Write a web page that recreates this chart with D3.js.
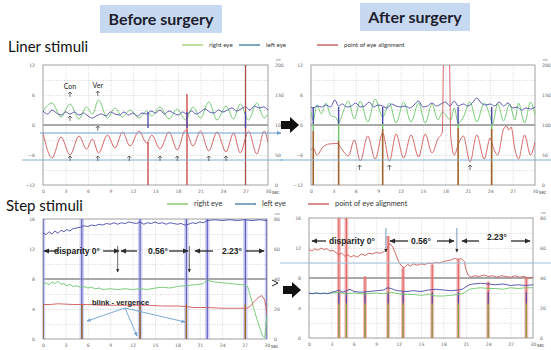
<!DOCTYPE html>
<meta charset="utf-8">
<style>
  body { margin: 0; background: #fff; }
  svg { display: block; font-family: Lato, "Open Sans", Arial, sans-serif; }
  .grid line { stroke: #c4c4c4; stroke-width: 0.6; stroke-dasharray: 1.2, 1.4; }
  .grid path { display: none; }
  .lbl text { fill: #6a6a6a; font-size: 4.6px; font-family: "DejaVu Sans", sans-serif; }
  .lbl path { display: none; }
  .trace { fill: none; stroke-width: 0.9; stroke-linejoin: round; }
  .ann { font-family: "Liberation Sans", Arial, sans-serif; font-weight: bold; fill: #222; }
</style>
<body>
<script src="https://cdn.jsdelivr.net/npm/d3@7/dist/d3.min.js"></script>
<script>
// ---- axis / tick data ----
const xTicks = [0, 3, 6, 9, 12, 15, 18, 21, 24, 27, 30];
const linLeftTicks = [-12, -6, 0, 6, 12];
const linRightTicks = [0, 50, 100, 150, 200];
const linGrid = [-9, -6, -3, 3, 6, 9];
const stepLeftTicks = [0, 4, 8, 12, 16];
const stepRightTicks = [0, 20, 40, 60, 80];
const stepGrid = [2, 4, 6, 10, 12, 14];

// ---- before surgery, liner stimuli (deg, [sec, value]) ----
const beforeLinRed = [[0,-1.6],[1.2,-6.6],[2.4,-2.4],[3.6,-6.0],[4.8,-2.2],[5.8,-4.8],[6.6,-2.8],[7.4,-5.6],[8.6,-2.0],[9.6,-4.6],[10.6,-1.4],[11.6,-4.2],[12.8,-1.2],[13.8,-3.6],[14.5,-2.0],[15.6,-4.8],[16.8,-1.4],[17.9,-5.0],[19.0,-1.0],[20.0,-4.2],[21.0,-1.2],[22.1,-5.2],[23.2,-1.4],[24.4,-5.4],[25.4,-1.6],[26.3,-5.6],[27.4,-1.2],[28.5,-5.8],[29.5,-1.2],[30,-3.5]];
const beforeLinGreen = [[0,2.8],[1.2,4.4],[2.4,1.6],[3.6,4.2],[4.8,1.2],[5.8,3.6],[6.6,2.2],[7.4,5.0],[8.6,1.4],[9.6,3.4],[10.6,1.6],[11.6,3.0],[12.8,1.4],[13.8,2.8],[14.5,1.8],[15.6,3.6],[16.8,1.2],[17.9,3.2],[19.0,1.0],[20.0,3.6],[21.0,1.4],[22.1,4.6],[23.2,1.0],[24.4,3.8],[25.4,1.2],[26.3,4.2],[27.4,1.0],[28.5,4.4],[29.5,1.4],[30,2.2]];
const beforeLinBlue = [[0,2.8],[0.6,2.2],[1.2,3.0],[1.8,2.4],[2.4,2.0],[3.0,2.6],[3.6,2.2],[4.2,2.6],[4.8,2.0],[5.4,2.4],[6.0,1.8],[6.6,1.4],[7.2,1.9],[7.8,2.2],[8.4,1.8],[9.0,2.6],[9.6,2.2],[10.2,2.0],[10.8,2.6],[11.4,2.0],[12.0,2.4],[12.6,1.8],[13.2,2.4],[13.8,2.2],[14.4,2.8],[15.0,2.4],[15.6,3.0],[16.2,2.2],[16.8,2.8],[17.4,2.4],[18.0,2.0],[18.6,2.6],[19.2,2.2],[19.8,2.8],[20.4,2.2],[21.0,2.6],[21.6,3.2],[22.2,2.6],[22.8,2.4],[23.4,3.0],[24.0,2.6],[24.6,3.0],[25.2,3.4],[25.8,2.8],[26.4,3.2],[27.0,3.6],[27.6,3.0],[28.2,3.8],[28.8,3.4],[29.4,3.6],[30,3.0]];
const beforeLinBlinks = [14.0, 19.2, 27.0];
const beforeLinBlinkReach = [-3.4, 6.2, 12];
const beforeLinMarks = [3.6, 7.3, 11.5, 15.6, 17.9, 22.1, 24.4];

// ---- after surgery, liner stimuli ----
const afterLinRed = [[0,-5.0],[0.3,-4.6],[0.8,-6.0],[1.6,-4.4],[2.4,-3.8],[3.5,-3.7],[4.4,-5.4],[5.0,-6.2],[5.8,-3.0],[6.6,-7.2],[7.6,-2.2],[8.6,-6.8],[9.6,-1.6],[10.5,-7.2],[11.4,-1.8],[12.4,-6.6],[13.4,-2.0],[14.4,-6.4],[15.3,-1.8],[16.2,-5.6],[17.0,-2.8],[17.6,-1.4],[17.75,12.4],[18.55,12.4],[18.7,-2.0],[19.2,-6.0],[19.7,-4.0],[20.4,-2.2],[21.3,-7.4],[22.2,-2.0],[23.2,-6.8],[24.0,-2.6],[24.3,-4.0],[25.0,-6.0],[25.8,-0.8],[26.2,-0.2],[26.5,-1.0],[26.8,-0.4],[27.3,-4.8],[27.8,-6.8],[28.6,-2.0],[29.4,-6.0],[30,-3.4]];
const afterLinGreen = [[0,2.6],[0.3,1.0],[0.8,4.0],[1.4,2.2],[2.0,4.4],[2.6,2.0],[3.4,1.4],[3.7,0.4],[4.2,2.2],[5.0,4.8],[5.8,1.2],[6.6,4.8],[7.6,0.6],[8.6,5.2],[9.6,1.6],[10.5,4.4],[11.4,0.4],[12.4,4.6],[13.4,0.6],[14.4,4.4],[15.3,0.4],[16.2,4.2],[17.0,1.0],[17.6,2.6],[18.7,1.0],[19.2,3.4],[19.7,0.4],[20.4,1.6],[21.3,4.6],[22.2,0.6],[23.2,4.4],[24.0,1.6],[24.3,0.2],[25.0,4.2],[25.8,0.8],[26.6,4.2],[27.3,1.0],[27.8,4.4],[28.6,0.4],[29.4,4.6],[30,2.0]];
const afterLinBlue = [[0,3.6],[0.3,3.4],[0.8,3.8],[1.4,3.6],[2.0,4.0],[2.6,3.6],[3.2,5.0],[3.7,3.8],[4.2,4.2],[4.8,3.6],[5.4,3.8],[6.0,4.4],[6.6,3.6],[7.2,3.8],[7.8,4.6],[8.4,3.6],[9.0,4.0],[9.6,3.8],[10.2,3.4],[10.8,4.2],[11.4,3.8],[12.0,3.6],[12.6,3.8],[13.2,3.4],[13.8,4.0],[14.4,4.8],[15.0,3.6],[15.6,3.8],[16.2,4.4],[16.8,3.8],[17.4,4.2],[18.0,4.6],[18.6,3.8],[19.2,4.8],[19.7,3.8],[20.4,4.2],[21.0,3.8],[21.6,4.4],[22.2,5.4],[22.8,4.4],[23.4,4.0],[24.0,4.2],[24.6,3.8],[25.2,4.6],[25.8,3.8],[26.4,4.4],[27.0,3.4],[27.6,3.6],[28.2,3.0],[28.8,3.4],[29.4,3.2],[30,3.6]];
const afterLinBlinks = [0.3, 3.7, 9.6, 19.7, 24.2];
const afterLinBlinkReach = [-1.2, -3.2, -0.8, -0.6, -0.8];
const afterLinMarks = [6.5, 10.5, 21.3];

// ---- before surgery, step stimuli ----
const beforeStepBlue = [[0,14.2],[0.4,13.9],[0.8,14.3],[1.2,14.0],[1.6,14.4],[2.0,14.1],[2.4,14.5],[2.8,14.3],[3.2,14.6],[3.6,14.4],[4.0,14.7],[4.5,14.8],[5.0,14.9],[5.5,15.1],[6,15.0],[6.5,15.2],[7,15.1],[7.5,15.3],[8,15.2],[8.5,15.4],[9,15.3],[9.5,15.5],[10,15.3],[10.5,15.5],[11,15.4],[11.5,15.6],[12,15.5],[12.5,15.4],[13,15.6],[13.5,15.3],[14,15.5],[14.5,15.4],[15,15.6],[15.5,15.4],[16,15.5],[16.5,15.3],[17,15.5],[17.5,15.4],[18,15.3],[18.5,15.4],[19,15.2],[19.5,15.3],[20,15.5],[20.5,15.4],[21,15.6],[21.5,15.5],[22,15.8],[23,15.9],[24,15.8],[25,15.9],[26,15.8],[27,15.9],[28,15.8],[29,15.9],[30,15.8]];
const beforeStepGreen = [[0,7.3],[0.4,7.5],[0.8,7.2],[1.2,7.6],[1.6,7.4],[2.0,7.7],[2.4,7.3],[2.8,7.4],[3.2,7.1],[3.6,7.3],[4.0,7.0],[4.5,7.1],[5.0,6.9],[5.5,7.0],[6.0,6.8],[6.5,6.9],[7,6.7],[7.5,6.8],[8,6.6],[9,6.7],[10,6.6],[11,6.7],[12,6.6],[13,6.7],[14,6.6],[15,6.8],[16,6.9],[17,6.8],[18,7.0],[19,7.1],[20,7.2],[21,7.3],[21.5,7.4],[22,7.9],[22.5,7.7],[23,7.6],[24,7.5],[25,7.4],[26,7.3],[27,7.2],[27.4,7.0],[27.8,5.6],[28.2,4.2],[28.6,2.8],[29,1.6],[29.4,0.4],[29.7,0.2],[30,3.2]];
const beforeStepRed = [[0,4.6],[1,4.6],[2,4.7],[4,4.6],[6,4.6],[8,4.5],[10,4.5],[12,4.5],[14,4.5],[16,4.4],[18,4.4],[19.5,4.3],[20,4.2],[22,4.2],[24,4.1],[26,4.1],[27.3,4.1],[27.8,4.4],[28.3,5.0],[28.8,5.5],[29.3,5.8],[29.7,5.2],[30,3.4]];
const beforeStepBlinks = [0, 5.2, 13.0, 19.2, 22.0, 27.1, 30];
const beforeStepDrops = [0, 5.2, 13.0, 19.2, 27.1];

// ---- after surgery, step stimuli ----
const afterStepRed = [[0,11.8],[0.4,11.6],[0.8,11.9],[1.2,11.7],[1.6,12.0],[2.0,11.8],[2.4,11.9],[2.8,11.6],[3.2,11.7],[3.6,11.4],[4.0,11.1],[4.4,11.3],[4.8,10.9],[5.2,11.1],[5.6,10.8],[6.0,11.0],[6.5,10.8],[7.0,11.2],[7.5,11.0],[8.0,11.3],[8.5,11.2],[9.0,11.4],[9.5,11.3],[10.0,11.5],[10.4,11.8],[10.8,12.6],[11.2,12.2],[11.6,11.2],[12.0,10.2],[12.4,9.6],[12.8,9.4],[13.2,9.8],[13.6,9.6],[14.0,9.9],[14.5,9.7],[15.0,9.9],[15.5,9.8],[16.0,10.0],[16.5,9.9],[17.0,10.1],[17.5,10.0],[18.0,10.2],[18.5,10.3],[19.0,10.4],[19.5,10.6],[20.0,10.5],[20.4,10.6],[20.8,10.2],[21.0,9.2],[21.3,8.4],[21.7,8.1],[22.2,8.3],[22.8,8.2],[23.4,8.4],[24.0,8.2],[24.6,8.3],[25.2,8.1],[25.8,8.3],[26.4,8.2],[27.0,8.1],[27.6,8.3],[28.2,8.1],[28.8,8.2],[29.4,8.0],[30,8.1]];
const afterStepBlue = [[0,6.0],[0.5,5.9],[1,6.0],[1.5,5.9],[2,6.0],[2.5,5.9],[3,6.1],[3.5,6.2],[4,6.4],[4.5,6.1],[5,6.3],[5.5,6.5],[6,6.2],[7,6.1],[8,6.2],[9,6.3],[10,6.4],[10.5,6.7],[11,6.6],[11.5,6.4],[12,6.3],[13,6.2],[14,6.3],[15,6.2],[16,6.4],[17,6.5],[18,6.4],[19,6.3],[20,6.4],[20.5,6.5],[21,6.8],[21.5,7.1],[22,7.2],[23,7.3],[24,7.2],[25,7.1],[26,7.2],[27,7.0],[28,7.1],[29,7.0],[30,7.1]];
const afterStepGreen = [[0,5.9],[1,6.0],[2,5.9],[3,6.0],[4,6.1],[5,5.9],[6,6.0],[7,5.9],[8,5.9],[9,6.0],[10,5.9],[11,6.1],[12,5.9],[13,5.8],[14,5.8],[15,5.7],[16,5.8],[17,5.6],[18,5.6],[19,5.7],[20,5.8],[20.5,5.9],[21,6.2],[21.5,6.5],[22,6.6],[23,6.7],[24,6.6],[25,6.6],[26,6.5],[27,6.7],[28,6.6],[29,6.7],[30,6.7]];
const afterStepBlinks = [4.0, 5.0, 7.5, 10.6, 12.6, 16.5, 20.0, 24.0, 29.1];
const afterStepBlinkReach = [16, 16, 8.2, 13.6, 9.4, 9.8, 10.5, 7.5, 8.0];

const legendLabels = ['right eye', 'left eye', 'point of eye alignment'];

const GREEN = '#6cc66c', BLUE = '#4848aa', RED = '#d05858';

const svg = d3.select('body').append('svg').attr('width', 551).attr('height', 350);
const defs = svg.append('defs');
let clipCount = 0;

function marker(id, color) {
  defs.append('marker').attr('id', id).attr('viewBox', '0 0 10 10')
    .attr('refX', 8).attr('refY', 5).attr('markerWidth', 5).attr('markerHeight', 5)
    .attr('orient', 'auto-start-reverse')
    .append('path').attr('d', 'M0,1 L9,5 L0,9 Z').attr('fill', color);
}
marker('ah', '#2a2a2a');
marker('ahBlue', '#6a9fd0');

function makePanel(box, leftTicks, rightTicks, gridVals, refVal) {
  const x = d3.scaleLinear().domain([0, 30]).range([box.x0, box.x1]);
  const y = d3.scaleLinear().domain(d3.extent(leftTicks)).range([box.y1, box.y0]);
  const yR = d3.scaleLinear().domain(d3.extent(rightTicks)).range([box.y1, box.y0]);
  const w = box.x1 - box.x0, h = box.y1 - box.y0;
  const g = svg.append('g');

  g.append('g').attr('class', 'grid').attr('transform', `translate(0,${box.y1})`)
    .call(d3.axisBottom(x).tickValues(xTicks.slice(1, -1)).tickSize(-h).tickFormat(''));
  g.append('g').attr('class', 'grid').attr('transform', `translate(${box.x0},0)`)
    .call(d3.axisLeft(y).tickValues(gridVals).tickSize(-w).tickFormat(''));
  g.append('line')
    .attr('x1', box.x0).attr('x2', box.x1).attr('y1', y(refVal)).attr('y2', y(refVal))
    .attr('stroke', '#8c8c8c').attr('stroke-width', 1.4);
  g.append('rect').attr('x', box.x0).attr('y', box.y0).attr('width', w).attr('height', h)
    .attr('fill', 'none').attr('stroke', '#a0a0a0').attr('stroke-width', 1);

  g.append('g').attr('class', 'lbl').attr('transform', `translate(0,${box.y1})`)
    .call(d3.axisBottom(x).tickValues(xTicks).tickSize(0).tickPadding(5));
  g.append('g').attr('class', 'lbl').attr('transform', `translate(${box.x0},0)`)
    .call(d3.axisLeft(y).tickValues(leftTicks).tickSize(0).tickPadding(8));
  g.append('g').attr('class', 'lbl').attr('transform', `translate(${box.x1},0)`)
    .call(d3.axisRight(yR).tickValues(rightTicks).tickSize(0).tickPadding(7));
  g.append('text').attr('x', box.x1 + 8).attr('y', box.y0 - 4)
    .attr('font-size', 3.6).attr('fill', '#777').text('cm');
  g.append('text').attr('x', box.x1 + 4).attr('y', box.y1 + 8.5)
    .attr('font-size', 5).attr('fill', '#555').text('sec');

  const id = 'clip' + (clipCount++);
  defs.append('clipPath').attr('id', id).append('rect')
    .attr('x', box.x0).attr('y', box.y0).attr('width', w).attr('height', h);
  const plot = g.append('g').attr('clip-path', `url(#${id})`);
  return { x, y, plot, box };
}

function trace(p, data, color, curve) {
  p.plot.append('path').datum(data).attr('class', 'trace').attr('stroke', color)
    .attr('d', d3.line().x(d => p.x(d[0])).y(d => p.y(d[1])).curve(curve));
}

function vseg(p, t, v0, v1, color, width, opacity) {
  p.plot.append('line').attr('x1', p.x(t)).attr('x2', p.x(t))
    .attr('y1', p.y(v0)).attr('y2', p.y(v1))
    .attr('stroke', color).attr('stroke-width', width).attr('stroke-opacity', opacity || 1);
}

function upArrow(px, py) {
  svg.append('path').attr('d', `M${px},${py + 5} L${px},${py} M${px - 2},${py + 2} L${px},${py} L${px + 2},${py + 2}`)
    .attr('fill', 'none').attr('stroke', '#333').attr('stroke-width', 0.7);
}

function arrow(x1, y1, x2, y2, m, color, width) {
  svg.append('line').attr('x1', x1).attr('y1', y1).attr('x2', x2).attr('y2', y2)
    .attr('stroke', color).attr('stroke-width', width).attr('marker-end', `url(#${m})`);
}

function bigArrow(x0, cy) {
  svg.append('path')
    .attr('d', `M${x0},${cy - 4} L${x0 + 9},${cy - 4} L${x0 + 9},${cy - 8} L${x0 + 18},${cy} L${x0 + 9},${cy + 8} L${x0 + 9},${cy + 4} L${x0},${cy + 4} Z`)
    .attr('fill', '#111');
}

// ---- titles ----
[['Before surgery', 100, 5, 122, 28], ['After surgery', 360, 3, 110, 28]].forEach(([txt, bx, by, bw, bh]) => {
  svg.append('rect').attr('x', bx).attr('y', by).attr('width', bw).attr('height', bh).attr('fill', '#c6d9f1');
  svg.append('text').attr('x', bx + bw / 2).attr('y', by + bh / 2 + 5.5).attr('text-anchor', 'middle')
    .attr('font-size', 16).attr('font-weight', 'bold').attr('fill', '#1d1d2e').text(txt);
});
svg.append('text').attr('x', 8).attr('y', 52).attr('font-size', 15).attr('fill', '#111').text('Liner stimuli');
svg.append('text').attr('x', 6).attr('y', 211).attr('font-size', 15).attr('fill', '#111').text('Step stimuli');

// ---- legends ----
function legend(y, xs, fs, colors) {
  legendLabels.forEach((lab, i) => {
    svg.append('line').attr('x1', xs[i]).attr('x2', xs[i] + 21).attr('y1', y).attr('y2', y)
      .attr('stroke', colors[i]).attr('stroke-width', 1.3);
    svg.append('text').attr('x', xs[i] + 27).attr('y', y + 2).attr('font-size', fs).attr('fill', '#333').text(lab);
  });
}
legend(45, [182, 239, 317], 6.2, ['#9acd6c', '#3a78a0', '#c0504d']);
legend(204, [167, 235, 308], 7.4, ['#78c060', '#3a78a0', '#c0504d']);

// ---- top left ----
const tl = makePanel({ x0: 43, x1: 268, y0: 65, y1: 185 }, linLeftTicks, linRightTicks, linGrid, 0);
trace(tl, beforeLinGreen, GREEN, d3.curveMonotoneX);
trace(tl, beforeLinBlue, BLUE, d3.curveMonotoneX);
trace(tl, beforeLinRed, RED, d3.curveMonotoneX);
beforeLinBlinks.forEach((t, i) => {
  vseg(tl, t, -12, beforeLinBlinkReach[i], i === 2 ? '#a85050' : '#c84040', 1.3);
  vseg(tl, t, 2.6, -0.6, BLUE, 1.3);
});

// ---- top right ----
const tr = makePanel({ x0: 311, x1: 535, y0: 65, y1: 185 }, linLeftTicks, linRightTicks, linGrid, 0);
trace(tr, afterLinGreen, GREEN, d3.curveMonotoneX);
trace(tr, afterLinBlue, BLUE, d3.curveMonotoneX);
trace(tr, afterLinRed, RED, d3.curveMonotoneX);
afterLinBlinks.forEach((t, i) => {
  vseg(tr, t, 3.6, 0.2, BLUE, 1.4);
  vseg(tr, t, 0.2, afterLinBlinkReach[i], GREEN, 1.4);
  vseg(tr, t, afterLinBlinkReach[i], -12, '#a0622a', 1.6);
});

// annotation lines, top row
svg.append('line').attr('x1', 22).attr('x2', 283).attr('y1', 160).attr('y2', 160).attr('stroke', '#7fb2d2').attr('stroke-width', 1);
svg.append('line').attr('x1', 280).attr('x2', 551).attr('y1', 160).attr('y2', 160).attr('stroke', '#7fb2d2').attr('stroke-width', 1);
arrow(40, 133, 281, 133, 'ahBlue', '#6a9fd0', 1);
svg.append('text').attr('x', tl.x(3.6)).attr('y', 89).attr('text-anchor', 'middle').attr('font-size', 7).attr('fill', '#222').text('Con');
svg.append('text').attr('x', tl.x(7.3)).attr('y', 88).attr('text-anchor', 'middle').attr('font-size', 7).attr('fill', '#222').text('Ver');
upArrow(tl.x(3.6), 92);
upArrow(tl.x(7.3), 91);
upArrow(tl.x(3.6), 116);
upArrow(tl.x(7.3), 126);
beforeLinMarks.forEach(t => upArrow(tl.x(t), 156));
afterLinMarks.forEach(t => upArrow(tr.x(t), 165));
bigArrow(281, 125);

// ---- bottom left ----
const bl = makePanel({ x0: 43, x1: 267, y0: 219, y1: 339 }, stepLeftTicks, stepRightTicks, stepGrid, 8);
beforeStepBlinks.forEach(t => {
  vseg(bl, t, 0, 16, '#a4a4ea', 4.5, 0.5);
  vseg(bl, t, 0, 16, '#4040b0', 0.9);
});
beforeStepDrops.forEach(t => vseg(bl, t, 0, 4.6, '#9a6a20', 1.4));
trace(bl, beforeStepGreen, GREEN, d3.curveLinear);
trace(bl, beforeStepBlue, BLUE, d3.curveLinear);
trace(bl, beforeStepRed, RED, d3.curveLinear);
svg.append('path').attr('d', 'M272,280 L278,283 L272,286').attr('fill', 'none').attr('stroke', '#222').attr('stroke-width', 1);

// ---- bottom right ----
const br = makePanel({ x0: 309, x1: 533, y0: 218, y1: 338 }, stepLeftTicks, stepRightTicks, stepGrid, 8);
afterStepBlinks.forEach((t, i) => {
  vseg(br, t, 0, afterStepBlinkReach[i], '#ee8a8a', 4, 0.55);
  vseg(br, t, 0, afterStepBlinkReach[i], '#d84848', 0.9);
  vseg(br, t, 0, 4.6, '#8aa040', 1.4);
  vseg(br, t, 4.6, 6.1, BLUE, 1.2);
});
trace(br, afterStepGreen, GREEN, d3.curveLinear);
trace(br, afterStepBlue, BLUE, d3.curveLinear);
trace(br, afterStepRed, RED, d3.curveLinear);
svg.append('line').attr('x1', 280).attr('x2', 551).attr('y1', 263).attr('y2', 263).attr('stroke', '#9cc2da').attr('stroke-width', 1);
bigArrow(283, 290);

// ---- step annotations ----
const dark = '#2a2a2a';
arrow(58, 251, 44, 251, 'ah', dark, 1.3);
svg.append('text').attr('class', 'ann').attr('x', 77).attr('y', 254).attr('text-anchor', 'middle').attr('font-size', 8.5).text('disparity 0°');
arrow(103, 251, 119, 251, 'ah', dark, 1.3);
arrow(137, 251, 121, 251, 'ah', dark, 1.3);
svg.append('text').attr('class', 'ann').attr('x', 158).attr('y', 254).attr('text-anchor', 'middle').attr('font-size', 8.5).text('0.56°');
arrow(169, 251, 188, 251, 'ah', dark, 1.3);
arrow(213, 251, 195, 251, 'ah', dark, 1.3);
svg.append('text').attr('class', 'ann').attr('x', 232).attr('y', 254).attr('text-anchor', 'middle').attr('font-size', 8.5).text('2.23°');
arrow(246, 251, 264, 251, 'ah', dark, 1.3);
arrow(bl.x(10), 246, bl.x(10), 272, 'ah', '#444', 0.8);
arrow(bl.x(19.6), 246, bl.x(19.6), 272, 'ah', '#444', 0.8);

svg.append('text').attr('class', 'ann').attr('x', 92).attr('y', 305).attr('font-size', 7.5).text('blink - vergence');
arrow(125, 308, 87, 321, 'ahBlue', '#6a9fd0', 0.9);
arrow(125, 308, 137, 336, 'ahBlue', '#6a9fd0', 0.9);
arrow(125, 308, 185, 322, 'ahBlue', '#6a9fd0', 0.9);

arrow(326, 241, 312, 241, 'ah', dark, 1.3);
svg.append('text').attr('class', 'ann').attr('x', 352).attr('y', 244).attr('text-anchor', 'middle').attr('font-size', 8.5).text('disparity 0°');
arrow(br.x(10.3), 228, br.x(10.3), 252, 'ah', '#5a7fa8', 0.8);
arrow(408, 241, 390, 241, 'ah', dark, 1.3);
svg.append('text').attr('class', 'ann').attr('x', 421).attr('y', 244).attr('text-anchor', 'middle').attr('font-size', 8.5).text('0.56°');
arrow(437, 241, 454, 241, 'ah', dark, 1.3);
arrow(br.x(19.8), 228, br.x(19.8), 252, 'ah', '#5a7fa8', 0.8);
arrow(479, 241, 462, 241, 'ah', dark, 1.3);
svg.append('text').attr('class', 'ann').attr('x', 497).attr('y', 240).attr('text-anchor', 'middle').attr('font-size', 8.5).text('2.23°');
arrow(511, 241, 530, 241, 'ah', dark, 1.3);
</script>
</body>
</html>
